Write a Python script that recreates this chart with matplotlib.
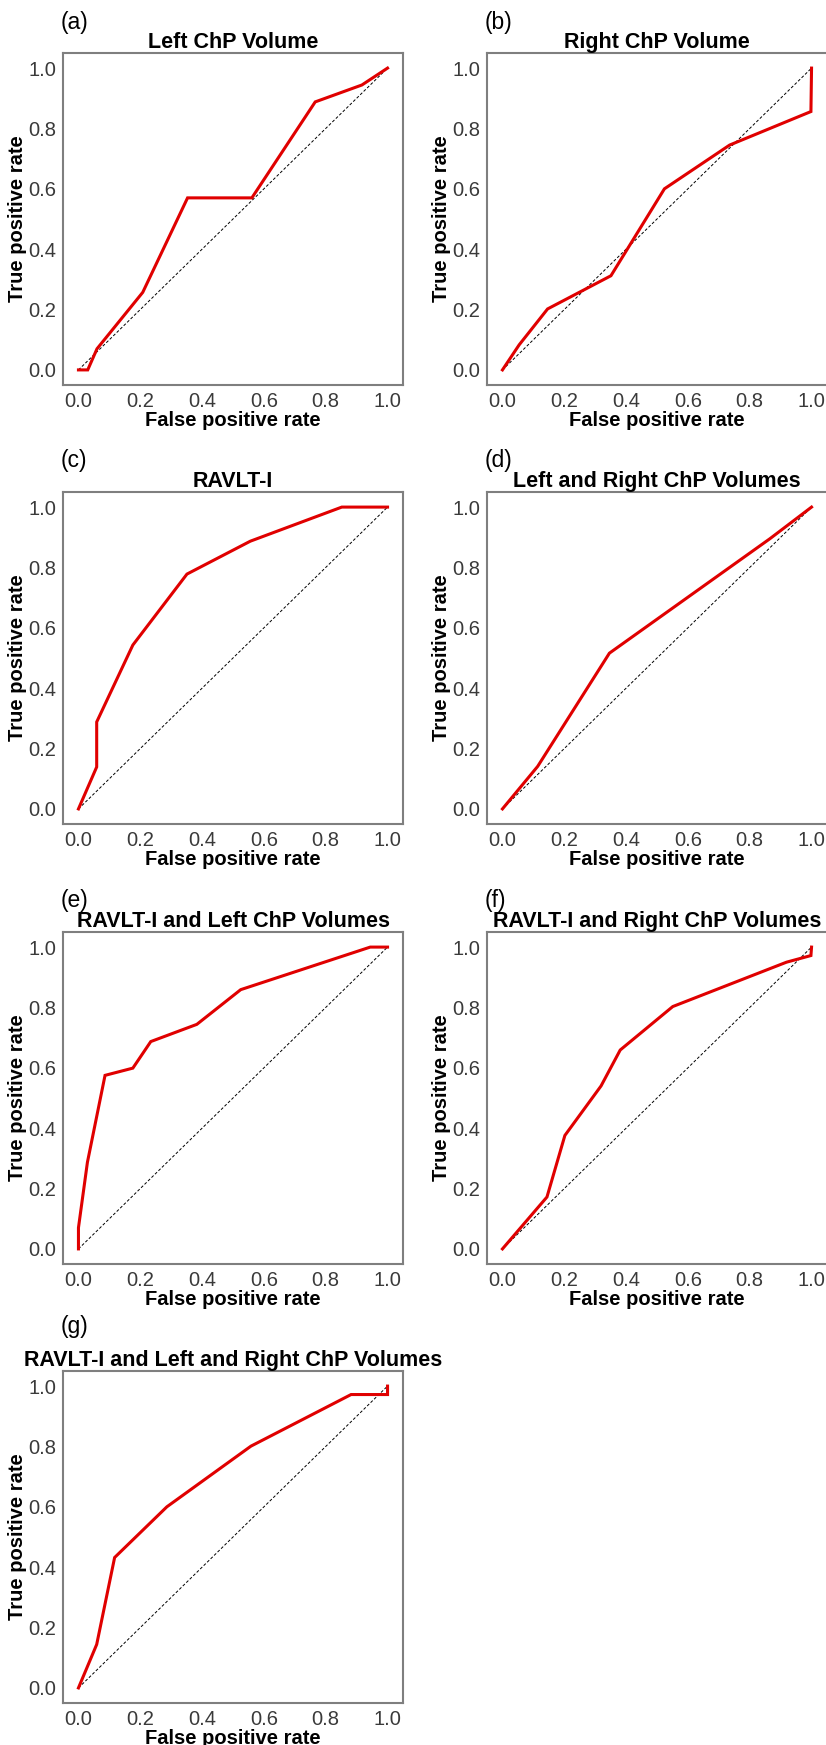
import matplotlib
matplotlib.use("Agg")
import matplotlib.pyplot as plt

plt.rcParams["font.family"] = ["Liberation Sans", "DejaVu Sans"]

# ROC curves (false positive rate, true positive rate)
labels = ["(a)", "(b)", "(c)", "(d)", "(e)", "(f)", "(g)"]
titles = [
    "Left ChP Volume",
    "Right ChP Volume",
    "RAVLT-I",
    "Left and Right ChP Volumes",
    "RAVLT-I and Left ChP Volumes",
    "RAVLT-I and Right ChP Volumes",
    "RAVLT-I and Left and Right ChP Volumes",
]
fpr_a = [0.0, 0.03, 0.06, 0.208, 0.353, 0.561, 0.766, 0.917, 1.0]
tpr_a = [0.0, 0.0, 0.07, 0.257, 0.570, 0.570, 0.888, 0.944, 1.0]
fpr_b = [0.0, 0.054, 0.146, 0.351, 0.524, 0.735, 0.998, 1.0]
tpr_b = [0.0, 0.083, 0.202, 0.312, 0.600, 0.745, 0.856, 1.0]
fpr_c = [0.0, 0.059, 0.059, 0.176, 0.351, 0.556, 0.852, 1.0]
tpr_c = [0.0, 0.139, 0.288, 0.543, 0.778, 0.887, 1.0, 1.0]
fpr_d = [0.0, 0.114, 0.346, 0.865, 1.0]
tpr_d = [0.0, 0.141, 0.516, 0.895, 1.0]
fpr_e = [0.0, 0.0, 0.029, 0.086, 0.176, 0.234, 0.383, 0.525, 0.944, 1.0]
tpr_e = [0.0, 0.07, 0.287, 0.575, 0.599, 0.687, 0.744, 0.859, 1.0, 1.0]
fpr_f = [0.0, 0.144, 0.202, 0.319, 0.381, 0.551, 0.919, 0.998, 1.0]
tpr_f = [0.0, 0.172, 0.376, 0.540, 0.659, 0.803, 0.950, 0.972, 1.0]
fpr_g = [0.0, 0.059, 0.117, 0.286, 0.558, 0.882, 1.0, 1.0]
tpr_g = [0.0, 0.144, 0.432, 0.600, 0.801, 0.972, 0.972, 1.0]
curves = [(fpr_a, tpr_a), (fpr_b, tpr_b), (fpr_c, tpr_c), (fpr_d, tpr_d),
          (fpr_e, tpr_e), (fpr_f, tpr_f), (fpr_g, tpr_g)]
ticks = [0.0, 0.2, 0.4, 0.6, 0.8, 1.0]

W, H = 826, 1745
fig = plt.figure(figsize=(W / 100, H / 100), dpi=100)

lefts = [63, 487]
tops = [53, 492, 932, 1371]
aw, ah = 340, 332

for i, (lab, title, (x, y)) in enumerate(zip(labels, titles, curves)):
    row, col = divmod(i, 2)
    l, t = lefts[col], tops[row]
    ax = fig.add_axes([l / W, (H - t - ah) / H, aw / W, ah / H])
    ax.plot([0, 1], [0, 1], color="black", lw=0.7, ls=(0, (3, 2)))
    ax.plot(x, y, color="#e00000", lw=2.2, solid_joinstyle="miter")
    ax.set_xlim(-0.05, 1.05)
    ax.set_ylim(-0.05, 1.05)
    ax.set_xticks(ticks)
    ax.set_yticks(ticks)
    ax.set_xticklabels([f"{v:.1f}" for v in ticks])
    ax.set_yticklabels([f"{v:.1f}" for v in ticks])
    ax.tick_params(length=0, labelsize=14.5, labelcolor="#3a3a3a", pad=5)
    for s in ax.spines.values():
        s.set_color("#7f7f7f")
        s.set_linewidth(1.5)
    ax.set_title(title, fontsize=15.5, fontweight="bold", pad=2)
    ax.set_xlabel("False positive rate", fontsize=14.5, fontweight="bold", labelpad=0)
    ax.set_ylabel("True positive rate", fontsize=14.5, fontweight="bold", labelpad=1)
    ly = t - 31 if row < 3 else t - 45
    fig.text((l - 2) / W, 1 - ly / H, lab, fontsize=16.5, va="center", ha="left")

fig.savefig("out.png", dpi=100)
